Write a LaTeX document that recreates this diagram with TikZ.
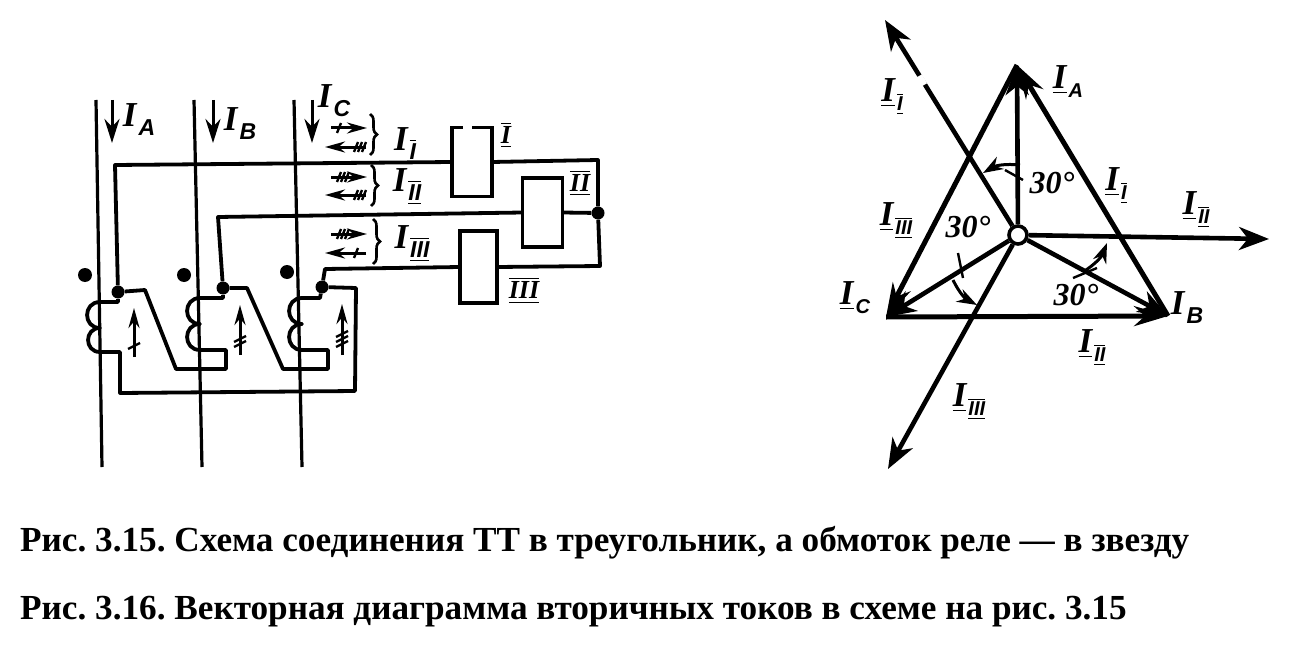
\documentclass[tikz,border=0pt]{standalone}
\usepackage{fontspec}
\usepackage{amsmath}
\setmainfont{Liberation Serif}
\newfontfamily\labelfont{Liberation Serif}
\newfontfamily\subfont{Liberation Sans}
\usetikzlibrary{arrows.meta,decorations.pathreplacing}

\newcommand{\romnum}[1]{$\overline{\underline{\mbox{#1}}}$}
\newcommand{\cur}[1]{{\labelfont\bfseries\itshape\fontsize{35}{35}\selectfont I}\hspace{2pt}\raisebox{-9pt}{\subfont\bfseries\itshape\fontsize{23}{23}\selectfont #1}}
\newcommand{\vcur}[1]{{\labelfont\bfseries\itshape\fontsize{35}{35}\selectfont\underline{I}}\hspace{2pt}\raisebox{-9pt}{\subfont\bfseries\itshape\fontsize{20}{20}\selectfont #1}}

\begin{document}
\frenchspacing
\begin{tikzpicture}[x=1pt,y=-1pt]
    % Define style for the wires, relays and labels
    \tikzstyle{phaseline} = [line width=3.2pt]
    \tikzstyle{wire} = [line width=3.8pt, line join=round]
    \tikzstyle{relay} = [rectangle, draw=black, line width=3.8pt, minimum width=40pt, minimum height=69pt, inner sep=0pt, outer sep=0pt]
    \tikzstyle{junc} = [circle, fill=black, minimum size=13pt, inner sep=0pt]
    \tikzstyle{polmark} = [circle, fill=black, minimum size=14pt, inner sep=0pt]
    \tikzstyle{flowarrow} = [line width=3pt, -{Stealth[length=24pt,width=15pt]}]
    \tikzstyle{smallarrow} = [line width=3pt, -{Stealth[length=20pt,width=11pt]}]
    \tikzstyle{tickline} = [line width=2.4pt]
    \tikzstyle{sidearrow} = [line width=5pt, -{Stealth[length=34pt,width=20pt,inset=11pt]}]
    \tikzstyle{rayarrow} = [line width=4.6pt, -{Stealth[length=30pt,width=23pt,inset=9pt]}]
    \tikzstyle{anglearc} = [line width=3pt, -{Stealth[length=20pt,width=14pt]}]
    \tikzstyle{txt} = [inner sep=0pt]
    \tikzstyle{capt} = [anchor=base west, inner sep=0pt, font=\bfseries\fontsize{35.2}{36}\selectfont]
    \useasboundingbox (0,0) rectangle (1311,666);

    % Draw the phase lines with their current arrows
    \foreach \ph/\xt/\xb/\xa in {A/96/102/112, B/194/202/213, C/294/302/312} {
        \coordinate (top\ph) at (\xt,100);
        \coordinate (bot\ph) at (\xb,467);
        \coordinate (flow\ph s) at (\xa,100);
        \coordinate (flow\ph e) at (\xa,143);
        \draw[phaseline] (top\ph) -- (bot\ph);
        \draw[flowarrow] (flow\ph s) -- (flow\ph e);
    }
    \node[txt] (labA) at (139,120) {\cur{A}};
    \node[txt] (labB) at (240,124) {\cur{B}};
    \node[txt] (labC) at (334,101) {\cur{C}};

    % Draw the relays
    \node[relay] (relayI) at (472,162) {};
    \node[relay] (relayII) at (542.5,212.5) {};
    \node[relay, minimum width=37pt, minimum height=72pt] (relayIII) at (478.5,267) {};
    \coordinate (gapL) at (463,127);
    \coordinate (gapR) at (472,127);
    \draw[white, line width=5pt] (gapL) -- (gapR);
    \node[txt] (nameI) at (506,135) {\labelfont\bfseries\itshape\fontsize{26}{26}\selectfont\romnum{I}};
    \node[txt] (nameII) at (580,183) {\labelfont\bfseries\itshape\fontsize{26}{26}\selectfont\romnum{II}};
    \node[txt] (nameIII) at (524,290) {\labelfont\bfseries\itshape\fontsize{26}{26}\selectfont\romnum{III}};

    % Draw the junctions and the polarity marks
    \node[junc] (juncA) at (118,292) {};
    \node[junc] (juncB) at (223,288) {};
    \node[junc] (juncC) at (322,287) {};
    \node[junc] (star) at (598,213) {};
    \node[polmark] (markA) at (85,275) {};
    \node[polmark] (markB) at (184,275) {};
    \node[polmark] (markC) at (287,272) {};

    % Draw the coils
    \foreach \ph/\x/\yt/\ym/\yb in {A/100/302/328/352, B/200/298/324/350, C/302/298/324/350} {
        \coordinate (coil\ph t) at (\x,\yt);
        \coordinate (coil\ph m) at (\x,\ym);
        \coordinate (coil\ph b) at (\x,\yb);
        \draw[wire] (coil\ph t) to[out=180,in=180,looseness=1.7] (coil\ph m)
            to[out=180,in=180,looseness=1.7] (coil\ph b);
    }

    % Draw the wires to the relays
    \coordinate (wIa) at (115,165);
    \coordinate (wIIa) at (218,217);
    \coordinate (wIIIa) at (325,269);
    \coordinate (retI) at (598,160);
    \coordinate (retIII) at (600,266);
    \draw[wire] (juncA) -- (wIa) -- (relayI.west);
    \draw[wire] (juncB) -- (wIIa) -- (relayII.west);
    \draw[wire] (juncC) -- (wIIIa) -- (relayIII.west);
    \draw[wire] (relayI.east) -- (retI) -- (star);
    \draw[wire] (relayII.east) -- (star);
    \draw[wire] (relayIII.east) -- (retIII) -- (star);

    % Draw the delta of the secondary windings
    \coordinate (dAa) at (145,290);
    \coordinate (dAb) at (176,369);
    \coordinate (dAc) at (226,369);
    \coordinate (dAd) at (226,350);
    \coordinate (dBa) at (247,288);
    \coordinate (dBb) at (283,369);
    \coordinate (dBc) at (328,369);
    \coordinate (dBd) at (328,350);
    \coordinate (dCa) at (120,352);
    \coordinate (dCb) at (120,393);
    \coordinate (dCc) at (355,391);
    \coordinate (dCd) at (356,288);
    \coordinate (tapB) at (223,298);
    \coordinate (tapC) at (320,298);
    \draw[wire] (juncA) |- (coilAt);
    \draw[wire] (juncA) -- (dAa) -- (dAb) -- (dAc) -- (dAd) -- (coilBb);
    \draw[wire] (juncB) -- (tapB) -- (coilBt);
    \draw[wire] (juncB) -- (dBa) -- (dBb) -- (dBc) -- (dBd) -- (coilCb);
    \draw[wire] (juncC) -- (tapC) -- (coilCt);
    \draw[wire] (coilAb) -- (dCa) -- (dCb) -- (dCc) -- (dCd) -- (juncC);

    % Draw the small arrows of the secondary currents
    \foreach \ph/\x/\ys/\ye/\n in {A/134/357/308/1, B/240/355/305/2, C/342/355/304/3} {
        \coordinate (up\ph s) at (\x,\ys);
        \coordinate (up\ph e) at (\x,\ye);
        \draw[smallarrow] (up\ph s) -- (up\ph e);
        \foreach \k in {1,...,\n} {
            \draw[tickline] (\x-6,\ys-3-5*\k) -- (\x+6,\ys-9-5*\k);
        }
    }
    \foreach \row/\yr/\yl/\nr/\nl in {1/128/147/1/3, 2/177/195/3/3, 3/234/253/3/1} {
        \coordinate (rgt\row s) at (331,\yr);
        \coordinate (rgt\row e) at (367,\yr);
        \coordinate (lft\row s) at (366,\yl);
        \coordinate (lft\row e) at (325,\yl);
        \draw[smallarrow] (rgt\row s) -- (rgt\row e);
        \draw[smallarrow] (lft\row s) -- (lft\row e);
        \foreach \k in {1,...,\nr} {
            \draw[tickline] (333+4*\k,\yr+5) -- (337+4*\k,\yr-5);
        }
        \foreach \k in {1,...,\nl} {
            \draw[tickline] (350+4*\k,\yl+5) -- (354+4*\k,\yl-5);
        }
    }

    % Draw the braces with their labels
    \foreach \row/\x/\yt/\yb in {1/370/114/155, 2/371/165/206, 3/373/219/264} {
        \coordinate (brace\row t) at (\x,\yt);
        \coordinate (brace\row b) at (\x,\yb);
        \draw[line width=2.6pt, decorate, decoration={brace,amplitude=7pt}] (brace\row t) -- (brace\row b);
    }
    \node[txt] (labI) at (405,146) {\cur{\romnum{I}}};
    \node[txt] (labII) at (407,187) {\cur{\romnum{II}}};
    \node[txt] (labIII) at (412,244) {\cur{\romnum{III}}};

    % Draw the vector diagram
    \node[circle, draw=black, fill=white, line width=3.6pt, minimum size=18pt, inner sep=0pt] (centre) at (1018,235) {};
    \coordinate (vertA) at (1017,65);
    \coordinate (vertB) at (1168,316);
    \coordinate (vertC) at (886,317);
    \coordinate (tipI) at (885,20);
    \coordinate (tipII) at (1269,239);
    \coordinate (tipIII) at (888,469);
    \coordinate (gapS) at (919,76);
    \coordinate (gapE) at (924,85);
    \draw[sidearrow] (vertB) -- (vertA);
    \draw[sidearrow] (vertC) -- (vertB);
    \draw[sidearrow] (vertA) -- (vertC);
    \draw[rayarrow] (centre) -- (vertA);
    \draw[rayarrow] (centre) -- (vertB);
    \draw[rayarrow] (centre) -- (vertC);
    \draw[rayarrow] (centre) -- (tipI);
    \draw[rayarrow] (centre) -- (tipII);
    \draw[rayarrow] (centre) -- (tipIII);
    \draw[white, line width=7pt] (gapS) -- (gapE);

    % Draw the angle arcs
    \foreach \ang/\xs/\ys/\xe/\ye/\xa/\ya/\xb/\yb in {top/1020/165/983/173/1005/170/1023/180,
        lft/953/280/977/305/958/253/963/278, rgt/1083/272/1107/243/1073/278/1097/268} {
        \coordinate (\ang s) at (\xs,\ys);
        \coordinate (\ang e) at (\xe,\ye);
        \coordinate (\ang a) at (\xa,\ya);
        \coordinate (\ang b) at (\xb,\yb);
        \draw[anglearc] (\ang s) to[bend right=18] (\ang e);
        \draw[tickline] (\ang a) -- (\ang b);
    }
    \node[txt] (degT) at (1052,183) {\labelfont\bfseries\itshape\fontsize{32}{32}\selectfont 30°};
    \node[txt] (degL) at (968,227) {\labelfont\bfseries\itshape\fontsize{32}{32}\selectfont 30°};
    \node[txt] (degR) at (1076,295) {\labelfont\bfseries\itshape\fontsize{32}{32}\selectfont 30°};

    % Draw the vector labels
    \node[txt] (vecA) at (1068,82) {\vcur{A}};
    \node[txt] (vecB) at (1187,308) {\cur{B}};
    \node[txt] (vecC) at (855,298) {\vcur{C}};
    \node[txt] (vecI) at (892,97) {\vcur{\romnum{I}}};
    \node[txt] (vecIm) at (1116,186) {\vcur{\romnum{I}}};
    \node[txt] (vecII) at (1196,210) {\vcur{\romnum{II}}};
    \node[txt] (vecIIb) at (1092,348) {\vcur{\romnum{II}}};
    \node[txt] (vecIII) at (896,221) {\vcur{\romnum{III}}};
    \node[txt] (vecIIIb) at (969,402) {\vcur{\romnum{III}}};

    % Draw the captions
    \node[capt] (capA) at (20,551) {Рис. 3.15. Схема соединения ТТ в треугольник, а обмоток реле — в звезду};
    \node[capt] (capB) at (20,619) {Рис. 3.16. Векторная диаграмма вторичных токов в схеме на рис. 3.15};
\end{tikzpicture}
\end{document}
